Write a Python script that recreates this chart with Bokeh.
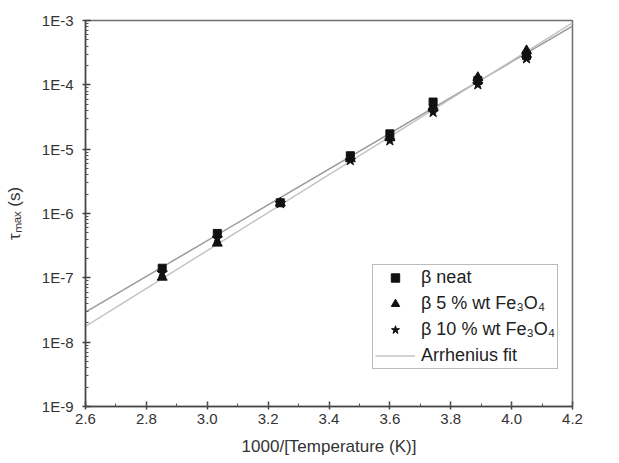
from bokeh.plotting import figure
from bokeh.models import (FixedTicker, CustomJSTickFormatter, PrintfTickFormatter,
                          Legend, LegendItem)
from bokeh.embed import file_html
from bokeh.resources import INLINE
import numpy as np

# ---- data ----
inv_T = [2.852, 3.033, 3.240, 3.470, 3.600, 3.742, 3.889, 4.049]   # 1000/T (1/K)
tau_neat = [1.41e-7, 4.9e-7, 1.47e-6, 7.9e-6, 1.73e-5, 5.4e-5, 1.17e-4, 2.85e-4]
tau_5wt = [1.02e-7, 3.45e-7, 1.45e-6, 7.1e-6, 1.50e-5, 4.6e-5, 1.30e-4, 3.40e-4]
tau_10wt = [1.20e-7, 4.1e-7, 1.44e-6, 6.7e-6, 1.36e-5, 3.75e-5, 1.01e-4, 2.56e-4]

# Arrhenius fits: log10(tau) = log10(tau0) + slope * (1000/T)
fit_log_tau0 = [-14.762, -15.426]
fit_slope = [2.78, 2.95]

x_limits = [2.6, 4.2]
y_limits = [1e-9, 1e-3]
x_ticks = [2.6, 2.8, 3.0, 3.2, 3.4, 3.6, 3.8, 4.0, 4.2]
y_ticks = [1e-9, 1e-8, 1e-7, 1e-6, 1e-5, 1e-4, 1e-3]

FONT = "Liberation Sans"
TXT = "#333333"

p = figure(width=619, height=463, y_axis_type="log",
           x_range=tuple(x_limits), y_range=tuple(y_limits),
           output_backend="svg", toolbar_location=None,
           min_border_left=85, min_border_right=47,
           min_border_top=20, min_border_bottom=57)
p.background_fill_color = "white"
p.border_fill_color = "white"
p.outline_line_color = "#6e6e6e"
p.outline_line_width = 1.5
p.xgrid.visible = False
p.ygrid.visible = False

# fit lines
fit_colors = ["#9a9a9a", "#c4c4c4"]
fit_renderers = []
xs_fit = np.array(x_limits)
for a, b, c in zip(fit_log_tau0, fit_slope, fit_colors):
    r = p.line(xs_fit, 10 ** (a + b * xs_fit), line_color=c, line_width=1.5)
    fit_renderers.append(r)

# data points
r_tri = p.scatter(inv_T, tau_5wt, marker="triangle", size=10,
                  fill_color="#111111", line_color="#111111")
r_sq = p.scatter(inv_T, tau_neat, marker="square", size=8,
                 fill_color="#111111", line_color="#111111")
r_star = p.scatter(inv_T, tau_10wt, marker="star", size=11,
                   fill_color="#111111", line_color="#111111")

# axes
x_minor = [round(x_limits[0] + 0.1 * i, 2) for i in range(int(round((x_limits[1] - x_limits[0]) / 0.1)) + 1)]
p.xaxis.ticker = FixedTicker(ticks=x_ticks, minor_ticks=x_minor)
p.xaxis.formatter = PrintfTickFormatter(format="%.1f")
y_minor = [k * t for t in y_ticks[:-1] for k in range(2, 10)]
p.yaxis.ticker = FixedTicker(ticks=y_ticks, minor_ticks=y_minor)
p.yaxis.formatter = CustomJSTickFormatter(
    code="return '1E' + Math.round(Math.log10(tick)).toString();")

for ax in (p.xaxis[0], p.yaxis[0]):
    ax.axis_line_color = "#444444"
    ax.axis_line_width = 1.5
    ax.major_tick_line_color = "#444444"
    ax.major_tick_line_width = 1.5
    ax.minor_tick_line_color = "#555555"
    ax.major_tick_in = 5
    ax.major_tick_out = 3
    ax.minor_tick_in = 3
    ax.minor_tick_out = 0
    ax.major_label_text_font = FONT
    ax.major_label_text_font_size = "15px"
    ax.major_label_text_color = TXT
    ax.axis_label_text_font = FONT
    ax.axis_label_text_font_size = "17px"
    ax.axis_label_text_font_style = "normal"
    ax.axis_label_text_color = TXT

p.xaxis.axis_label = "1000/[Temperature (K)]"
p.xaxis.major_label_standoff = 4
p.xaxis.axis_label_standoff = 10
p.yaxis.axis_label = "τₘₐₓ (s)"
p.yaxis.major_label_standoff = 9
p.yaxis.axis_label_standoff = 15

legend = Legend(items=[
    LegendItem(label="β neat", renderers=[r_sq]),
    LegendItem(label="β 5 % wt Fe₃O₄", renderers=[r_tri]),
    LegendItem(label="β 10 % wt Fe₃O₄", renderers=[r_star]),
    LegendItem(label="Arrhenius fit", renderers=[fit_renderers[1]]),
], location=(287, 37))
legend.label_text_font = FONT
legend.label_text_font_size = "18px"
legend.label_text_color = "#222222"
legend.glyph_width = 40
legend.glyph_height = 21
legend.label_height = 21
legend.label_standoff = 6
legend.spacing = 5
legend.padding = 2
legend.margin = 0
legend.border_line_color = "#777777"
legend.border_line_width = 1.5
legend.background_fill_alpha = 1.0
p.add_layout(legend, "center")

open("out.html", "w").write(file_html(p, INLINE))
